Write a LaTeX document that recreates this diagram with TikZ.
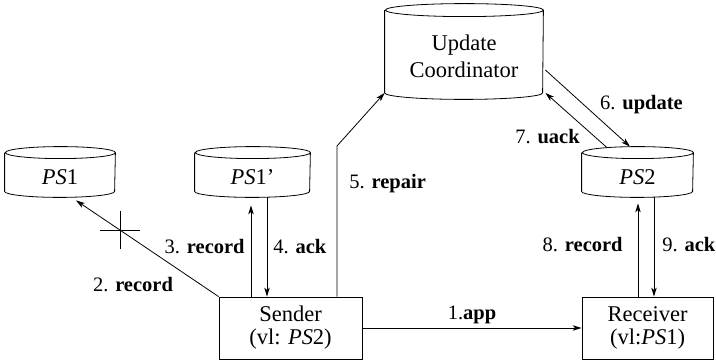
\documentclass[tikz,border=0pt]{standalone}
\usepackage{fontspec}
\setmainfont{Liberation Serif}
\usetikzlibrary{arrows.meta}
\begin{document}
\begin{tikzpicture}[x=1pt,y=1pt,line width=0.8pt,
  box/.style={draw,rectangle,inner sep=0pt,align=center,font=\fontsize{22.5}{23}\selectfont},
  cylbox/.style={rectangle,inner sep=0pt},
  ctext/.style={align=center,inner sep=0pt,font=\fontsize{22.5}{27}\selectfont},
  lbl/.style={inner sep=0pt,font=\fontsize{20.5}{22}\selectfont},
  arr/.style={-{Stealth[length=9pt,width=5.5pt,inset=2.5pt]}}]
\useasboundingbox (0,0) rectangle (716,362);
% nodes
\node[cylbox,minimum width=110,minimum height=50] (ps1) at (60,190) {};
\node[cylbox,minimum width=115,minimum height=50] (ps1p) at (252.5,190) {};
\node[cylbox,minimum width=111,minimum height=50] (ps2) at (637.5,190) {};
\node[cylbox,minimum width=158,minimum height=95] (uc) at (464,310.5) {};
\node[ctext] (ps1t) at (60,185) {\textit{PS}1};
\node[ctext] (ps1pt) at (252.5,185) {\textit{PS}1’};
\node[ctext] (ps2t) at (637.5,185) {\textit{PS}2};
\node[ctext] (uct) at (464,306) {Update\\Coordinator};
\node[box,minimum width=143,minimum height=62] (sender) at (290.5,34) {Sender\\(vl: \textit{PS}2)};
\node[box,minimum width=131,minimum height=62] (receiver) at (647.5,34) {Receiver\\(vl:\textit{PS}1)};
% cylinders
\newcommand{\drawcyl}[3]{%
  \draw ([yshift=-#3]#1.north west) -- ([yshift=#3]#1.south west)
    arc[start angle=180,end angle=360,x radius=#2,y radius=#3]
    -- ([yshift=-#3]#1.north east)
    arc[start angle=0,end angle=360,x radius=#2,y radius=#3];}
\drawcyl{ps1}{55}{6}
\drawcyl{ps1p}{57.5}{6}
\drawcyl{ps2}{55.5}{6}
\drawcyl{uc}{79}{6.5}
% connectors
\draw[arr] (sender.east) -- node[lbl,above=4pt] (l1) {1.\textbf{app}} (receiver.west);
\draw[arr] (sender.north west) -- coordinate[pos=0.69] (x2) ([shift={(16,-3)}]ps1.south);
\draw ([xshift=-20]x2) -- ([xshift=20]x2) ([yshift=-19]x2) -- ([yshift=19]x2);
\node[lbl] (l2) at (133,77) {2. \textbf{record}};
\draw[arr] ([xshift=-39.5]sender.north) -- ([shift={(-1.5,-8)}]ps1p.south);
\draw[arr] ([xshift=14.5]ps1p.south) -- ([xshift=-23.5]sender.north);
\node[lbl,anchor=east] (l3) at (245,115) {3. \textbf{record}};
\node[lbl,anchor=west] (l4) at (273,115) {4. \textbf{ack}};
\coordinate (bend5) at (337,216);
\draw[arr] ([xshift=46.5]sender.north) -- (bend5) -- ([yshift=6.5]uc.south west);
\node[lbl,anchor=west] (l5) at (349,178) {5. \textbf{repair}};
\draw[arr] ([shift={(2,-18.5)}]uc.east) -- ([xshift=-7.5]ps2.north);
\draw[arr] ([shift={(-30.5,-1)}]ps2.north) -- ([shift={(2,6.5)}]uc.south east);
\node[lbl] (l6) at (641.5,257) {6. \textbf{update}};
\node[lbl] (l7) at (547.5,225) {7. \textbf{uack}};
\draw[arr] ([xshift=-9.5]receiver.north) -- ([shift={(0.5,-6)}]ps2.south);
\draw[arr] ([xshift=16.5]ps2.south) -- ([xshift=6.5]receiver.north);
\node[lbl,anchor=east] (l8) at (623,117) {8. \textbf{record}};
\node[lbl,anchor=west] (l9) at (662,117) {9. \textbf{ack}};
\end{tikzpicture}
\end{document}
